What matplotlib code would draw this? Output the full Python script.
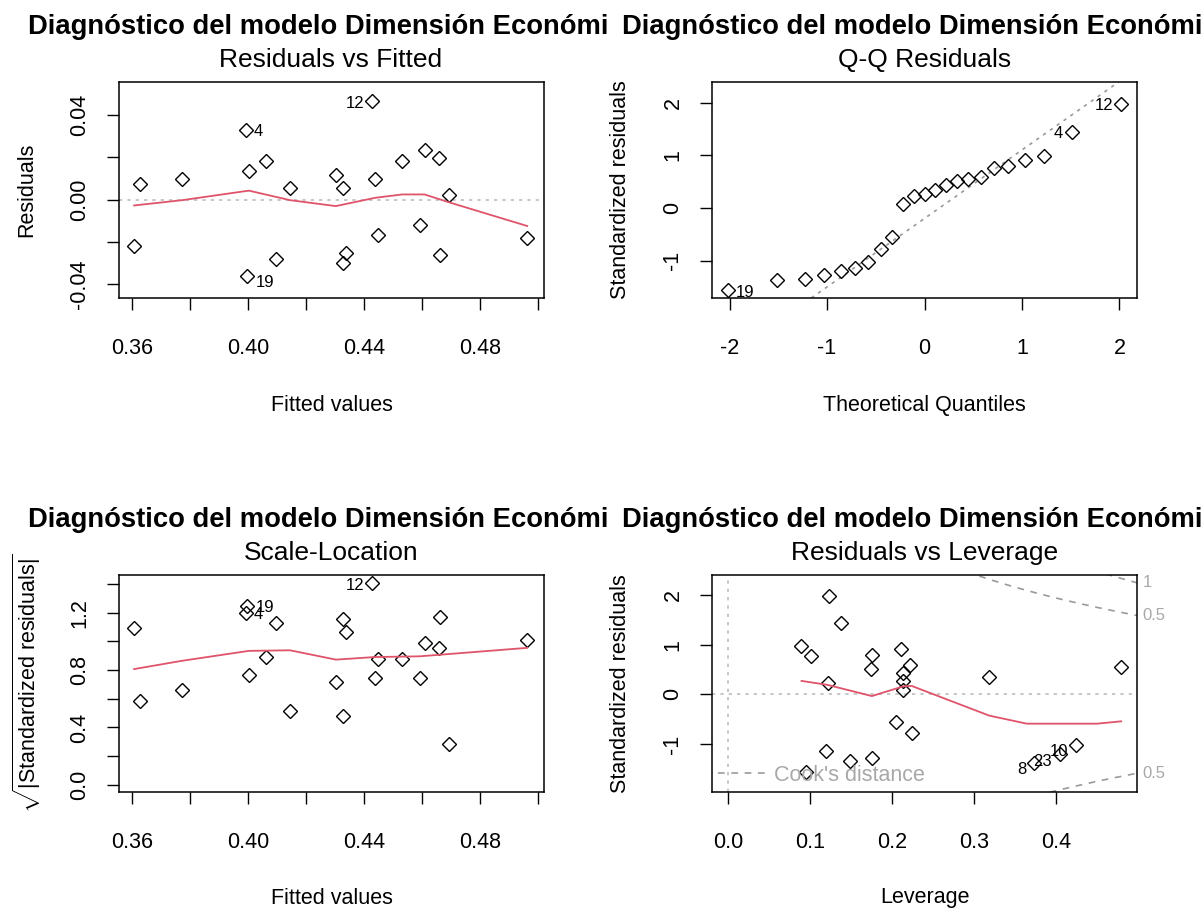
import numpy as np
import matplotlib
matplotlib.use("Agg")
import matplotlib.pyplot as plt
from matplotlib.transforms import blended_transform_factory

plt.rcParams["font.family"] = ["Liberation Sans", "DejaVu Sans"]
plt.rcParams["mathtext.fontset"] = "custom"
plt.rcParams["mathtext.rm"] = "Liberation Sans"
plt.rcParams["mathtext.it"] = "Liberation Sans:italic"
plt.rcParams["mathtext.bf"] = "Liberation Sans:bold"

# the title is cut short in the picture, as here
main_title = "Diagnóstico del modelo Dimensión Económi"
captions = ["Residuals vs Fitted", "Q-Q Residuals", "Scale-Location", "Residuals vs Leverage"]

# one value per observation (ordered by fitted value)
obs_id = [23, 1, 2, 4, 19, 3, 5, 6, 7, 9, 11, 13, 14, 12, 15, 16, 17, 18, 20, 21, 8, 22, 10]
fitted = [0.3606, 0.3626, 0.3772, 0.3991, 0.3997, 0.4002, 0.4060, 0.4097, 0.4144, 0.4302, 0.4326, 0.4326,
          0.4337, 0.4428, 0.4437, 0.4449, 0.4531, 0.4591, 0.4608, 0.4657, 0.4661, 0.4692, 0.4962]
resid = [-0.0220, 0.0072, 0.0099, 0.0329, -0.0361, 0.0136, 0.0180, -0.0282, 0.0055, 0.0116, 0.0055, -0.0298,
         -0.0254, 0.0463, 0.0099, -0.0166, 0.0180, -0.0122, 0.0232, 0.0196, -0.0264, 0.0020, -0.0184]
std_resid = [-1.203, 0.342, 0.437, 1.443, -1.557, 0.582, 0.797, -1.272, 0.266, 0.519, 0.228, -1.342,
             -1.133, 1.975, 0.551, -0.772, 0.766, -0.551, 0.981, 0.911, -1.373, 0.082, -1.019]
leverage = [0.4049, 0.3184, 0.2139, 0.1384, 0.0947, 0.2216, 0.1755, 0.1755, 0.2139, 0.1739, 0.1216, 0.1490,
            0.1192, 0.1237, 0.4792, 0.2241, 0.1012, 0.2053, 0.0898, 0.2110, 0.3735, 0.2139, 0.4245]

# theoretical normal quantiles on the Q-Q axis
theo_q = [-2.02, -1.51, -1.23, -1.03, -0.86, -0.71, -0.58, -0.45, -0.33, -0.22, -0.11, 0.00,
          0.11, 0.22, 0.33, 0.45, 0.58, 0.71, 0.86, 1.03, 1.23, 1.51, 2.02]
qq_intercept = -0.20
qq_slope = 1.30

# smoother curves
rvf_smooth_x = [0.3606, 0.3772, 0.4002, 0.4144, 0.4302, 0.4437, 0.4531, 0.4608, 0.4692, 0.4962]
rvf_smooth_y = [-0.0028, -0.0003, 0.0042, -0.0003, -0.0031, 0.0008, 0.0024, 0.0024, -0.0013, -0.0125]
sl_smooth_x = [0.3606, 0.3772, 0.4002, 0.4144, 0.4302, 0.4437, 0.4591, 0.4692, 0.4962]
sl_smooth_y = [0.807, 0.865, 0.934, 0.938, 0.873, 0.891, 0.896, 0.912, 0.955]
lev_smooth_x = [0.0898, 0.1216, 0.1755, 0.2139, 0.2241, 0.3184, 0.3641, 0.4498, 0.4792]
lev_smooth_y = [0.271, 0.190, -0.034, 0.162, 0.169, -0.427, -0.589, -0.589, -0.542]

n_coef = 5
cook_levels = [0.5, 1.0]

lab_resid = [12, 4, 19]
lab_cook = [8, 23, 10]

W, H = 1204, 915
fig = plt.figure(figsize=(W / 100, H / 100), dpi=100)

RED = "#DF536B"
LGRAY = "#BEBEBE"
MGRAY = "#9A9A9A"
FS = 15.5
FS_T = 19
FS_ID = 12


def box(l, t, r, b):
    return fig.add_axes([l / W, 1 - b / H, (r - l) / W, (b - t) / H])


def style(ax, xlim, ylim, xt, xtl, yt, ytl, xlabel, ylabel, col_left, top, bottom, left, right, xlab_y):
    ax.set_xlim(xlim)
    ax.set_ylim(ylim)
    ax.set_xticks(xt)
    ax.set_xticklabels(xtl)
    ax.set_yticks(yt)
    ax.set_yticklabels(ytl, rotation=90, va="center")
    ax.tick_params(length=8.6, width=1.0, labelsize=FS)
    ax.tick_params(axis="x", pad=20)
    ax.tick_params(axis="y", pad=12)
    for s in ax.spines.values():
        s.set_linewidth(1.1)
    ax.set_xlabel(xlabel, fontsize=FS)
    ax.xaxis.set_label_coords(0.5, -(xlab_y - bottom) / (bottom - top))
    ax.xaxis.label.set_va("center")
    ax.set_ylabel(ylabel, fontsize=FS)
    ax.yaxis.set_label_coords(-(left - col_left) / (right - left), 0.5)
    ax.yaxis.label.set_va("center")


def titles(x_start, cx, top, sub):
    fig.text(x_start / W, 1 - (top - 55) / H, main_title, ha="left", va="center",
             fontsize=19.7, fontweight="bold")
    fig.text(cx / W, 1 - (top - 22) / H, sub, ha="center", va="center", fontsize=FS_T)


def points(ax, x, y):
    ax.plot(x, y, ls="none", marker="D", ms=7.3, mfc="none", mec="black", mew=1.0)


def label_ids(ax, x, y, ids, wanted, drop_neg=True):
    mid = np.mean(ax.get_xlim())
    for xi, yi, oid in zip(x, y, ids):
        if oid not in wanted:
            continue
        left = xi > mid
        dy = -5 if (yi < 0 and drop_neg) else -1.5
        ax.annotate(str(oid), (xi, yi), xytext=(-6 if left else 6, dy), textcoords="offset points",
                    ha="right" if left else "left", va="center", fontsize=FS_ID)


# ---- Residuals vs Fitted
ax1 = box(119, 82, 544, 298)
ax1.axhline(0, color=LGRAY, lw=1.2, dashes=(2, 3))
points(ax1, fitted, resid)
ax1.plot(rvf_smooth_x, rvf_smooth_y, color=RED, lw=1.3)
style(ax1, (0.3554, 0.5020), (-0.0465, 0.0555),
      np.arange(0.36, 0.501, 0.02), ["0.36", "", "0.40", "", "0.44", "", "0.48", ""],
      [-0.04, -0.02, 0, 0.02, 0.04], ["-0.04", "", "0.00", "", "0.04"],
      "Fitted values", "Residuals", 27, 82, 298, 119, 544, 405)
label_ids(ax1, fitted, resid, obs_id, lab_resid)
titles(28, 331, 82, captions[0])

# ---- Q-Q Residuals
ax2 = box(712, 82, 1137, 298)
ax2.axline((0, qq_intercept), slope=qq_slope, color=MGRAY, lw=1.2, dashes=(2, 3))
qq_y = sorted(std_resid)
qq_ids = [i for _, i in sorted(zip(std_resid, obs_id))]
points(ax2, theo_q, qq_y)
style(ax2, (-2.18, 2.18), (-1.71, 2.39),
      [-2, -1, 0, 1, 2], ["-2", "-1", "0", "1", "2"],
      [-1, 0, 1, 2], ["-1", "0", "1", "2"],
      "Theoretical Quantiles", "Standardized residuals", 620, 82, 298, 712, 1137, 405)
label_ids(ax2, theo_q, qq_y, qq_ids, lab_resid, drop_neg=False)
titles(622, 924.5, 82, captions[1])

# ---- Scale-Location
ax3 = box(119, 575, 544, 792)
sl_y = np.sqrt(np.abs(std_resid))
points(ax3, fitted, sl_y)
ax3.plot(sl_smooth_x, sl_smooth_y, color=RED, lw=1.3)
style(ax3, (0.3554, 0.5020), (-0.05, 1.463),
      np.arange(0.36, 0.501, 0.02), ["0.36", "", "0.40", "", "0.44", "", "0.48", ""],
      np.arange(0, 1.41, 0.2), ["0.0", "", "0.4", "", "0.8", "", "1.2", ""],
      "Fitted values", r"$\sqrt{|\mathrm{Standardized\ residuals}|}$", 27, 575, 792, 119, 544, 898)
label_ids(ax3, fitted, sl_y, obs_id, lab_resid)
titles(28, 331, 575, captions[2])

# ---- Residuals vs Leverage
ax4 = box(712, 575, 1137, 792)
xlim4 = (-0.0192, 0.4984)
ylim4 = (-1.963, 2.40)
ax4.axhline(0, color=LGRAY, lw=1.2, dashes=(2, 3))
ax4.axvline(0, color=LGRAY, lw=1.2, dashes=(2, 3))
hh = np.linspace(0.005, xlim4[1], 200)
trans = blended_transform_factory(ax4.transAxes, ax4.transData)
for lev in cook_levels:
    cl = np.sqrt(lev * n_coef * (1 - hh) / hh)
    ax4.plot(hh, cl, color=MGRAY, lw=1.2, dashes=(4, 4))
    ax4.plot(hh, -cl, color=MGRAY, lw=1.2, dashes=(4, 4))
    yedge = np.sqrt(lev * n_coef * (1 - xlim4[1]) / xlim4[1])
    for yv in (yedge, -yedge):
        if ylim4[0] < yv < ylim4[1]:
            ax4.annotate("%g" % lev, (1, yv), xycoords=trans, xytext=(4, 0), textcoords="offset points",
                         ha="left", va="center", fontsize=FS_ID, color="#A8A8A8", annotation_clip=False)
points(ax4, leverage, std_resid)
ax4.plot(lev_smooth_x, lev_smooth_y, color=RED, lw=1.3)
style(ax4, xlim4, ylim4,
      [0, 0.1, 0.2, 0.3, 0.4], ["0.0", "0.1", "0.2", "0.3", "0.4"],
      [-1, 0, 1, 2], ["-1", "0", "1", "2"],
      "Leverage", "Standardized residuals", 620, 575, 792, 712, 1137, 898)
label_ids(ax4, leverage, std_resid, obs_id, lab_cook)
ax4.plot([], [], color=MGRAY, lw=1.2, dashes=(4, 4), label="Cook's distance")
ax4.legend(loc="lower left", frameon=False, fontsize=FS, labelcolor="#A8A8A8", handlelength=2.2,
           handletextpad=0.4, borderaxespad=0.1, borderpad=0.2)
titles(622, 924.5, 575, captions[3])

fig.savefig("out.png", dpi=100)
